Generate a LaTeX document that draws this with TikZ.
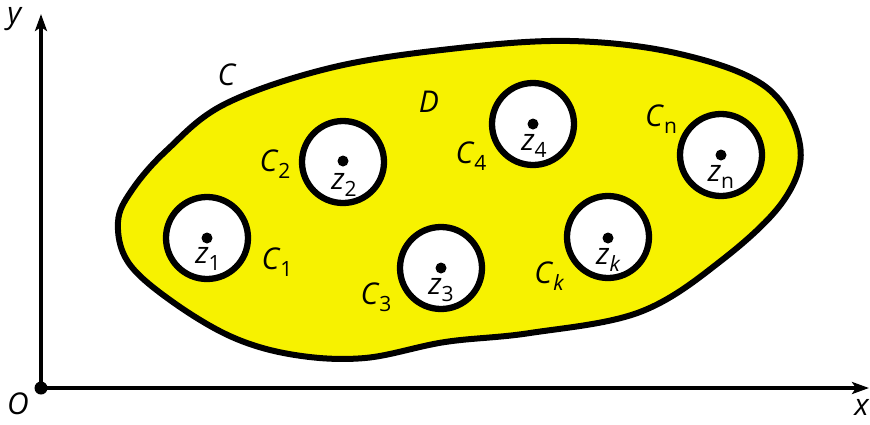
\documentclass[tikz,border=0pt]{standalone}
\usepackage{fontspec}
\setmainfont{Open Sans}
\usetikzlibrary{arrows.meta}
\definecolor{blobyellow}{RGB}{247,242,0}
\newcommand\lbl[2]{\textit{#1}\raisebox{-0.45ex}{\fontsize{21}{21}\selectfont #2}}
\tikzset{
  hole/.style={circle, draw=black, line width=6.3pt, fill=white, minimum size=82pt, inner sep=0pt},
  pt/.style={circle, fill=black, minimum size=11pt, inner sep=0pt},
  lab/.style={font=\fontsize{30}{30}\selectfont, inner sep=0pt},
  axis/.style={line width=3.5pt, -{Stealth[length=17pt,width=12pt,inset=4pt]}}
}
\begin{document}
\begin{tikzpicture}[x=1pt,y=-1pt]
\useasboundingbox (0,0) rectangle (870,424);
% region D
\draw[line width=6pt, fill=blobyellow, line join=round] plot[smooth cycle, tension=0.6] coordinates {
(118,222) (132,190) (167,150) (225,104) (330,68) (450,49) (570,41) (680,54) (766,87)
(800,145) (784,200) (722,260) (640,312) (530,333) (445,342) (365,358)
(295,355) (232,337) (170,300) (128,262)};
% holes
\node[hole] (c1) at (207,238) {};
\node[hole] (c2) at (343,162) {};
\node[hole] (c3) at (441,268) {};
\node[hole] (c4) at (533,124) {};
\node[hole] (ck) at (608,237) {};
\node[hole] (cn) at (721,155) {};
\node[pt] (p1) at (207,238) {};
\node[pt] (p2) at (343,161) {};
\node[pt] (p3) at (441,268) {};
\node[pt] (p4) at (533,124) {};
\node[pt] (pk) at (608,238) {};
\node[pt] (pn) at (721,155) {};
% axes
\node[pt, minimum size=13pt] (O) at (41,388) {};
\coordinate (xend) at (869,388);
\coordinate (yend) at (41,14);
\draw[axis] (O.center) -- (xend);
\draw[axis] (O.center) -- (yend);
% labels
\node[lab] (lz1) at (208,259) {\lbl{z}{1}};
\node[lab] (lz2) at (344,185) {\lbl{z}{2}};
\node[lab] (lz3) at (441,290) {\lbl{z}{3}};
\node[lab] (lz4) at (534,146) {\lbl{z}{4}};
\node[lab] (lzk) at (608,260) {\lbl{z}{\itshape k}};
\node[lab] (lzn) at (721,177) {\lbl{z}{n}};
\node[lab] (lC1) at (277,262) {\lbl{C}{1}};
\node[lab] (lC2) at (275,164) {\lbl{C}{2}};
\node[lab] (lC3) at (376,297) {\lbl{C}{3}};
\node[lab] (lC4) at (471,156) {\lbl{C}{4}};
\node[lab] (lCk) at (549,276) {\lbl{C}{\itshape k}};
\node[lab] (lCn) at (661,119) {\lbl{C}{n}};
\node[lab] (lC) at (227,75) {\textit{C}};
\node[lab] (lD) at (429,102) {\textit{D}};
\node[lab] (ly) at (15,19) {\textit{y}};
\node[lab] (lO) at (18,404) {\textit{O}};
\node[lab] (lx) at (862,407) {\textit{x}};
\end{tikzpicture}
\end{document}
